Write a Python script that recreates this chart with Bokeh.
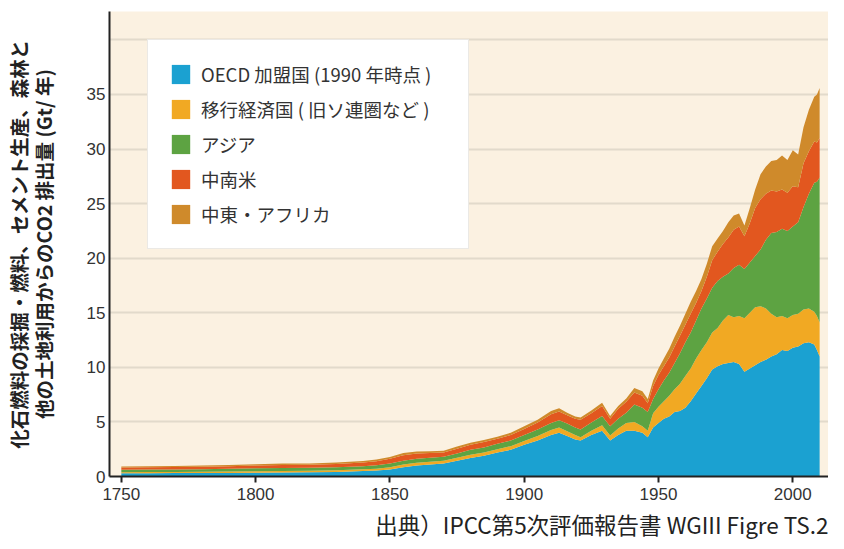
from bokeh.plotting import figure
from bokeh.models import ColumnDataSource, FixedTicker, LinearAxis, Title, Range1d
from bokeh.embed import file_html
from bokeh.resources import INLINE

years = [1750, 1760, 1770, 1780, 1790, 1800, 1810, 1820, 1830, 1840, 1845, 1850,
         1855, 1860, 1865, 1870, 1875, 1880, 1885, 1890, 1895, 1900, 1905, 1910,
         1913, 1916, 1919, 1921, 1925, 1929, 1932, 1935, 1938, 1941, 1944, 1946,
         1948, 1950, 1952, 1954, 1956, 1958, 1960, 1962, 1964, 1966, 1968, 1970,
         1972, 1974, 1976, 1978, 1980, 1982, 1984, 1986, 1988, 1990, 1992, 1994,
         1996, 1998, 2000, 2002, 2004, 2006, 2008, 2009, 2010]

oecd = [0.30, 0.30, 0.31, 0.32, 0.33, 0.35, 0.37, 0.38, 0.42, 0.50, 0.55, 0.65,
        0.85, 1.00, 1.10, 1.20, 1.45, 1.70, 1.90, 2.20, 2.45, 2.90, 3.30, 3.80,
        4.00, 3.70, 3.40, 3.30, 3.80, 4.20, 3.30, 3.80, 4.20, 4.20, 4.00, 3.60,
        4.50, 4.90, 5.30, 5.50, 5.90, 6.00, 6.30, 6.90, 7.60, 8.30, 9.00, 9.80,
        10.10, 10.30, 10.40, 10.50, 10.30, 9.60, 9.90, 10.20, 10.50, 10.70, 11.00, 11.20,
        11.60, 11.50, 11.80, 11.90, 12.20, 12.30, 12.10, 11.60, 11.00]

transition = [0.10, 0.11, 0.11, 0.11, 0.12, 0.13, 0.13, 0.14, 0.15, 0.16, 0.17, 0.20,
              0.25, 0.25, 0.25, 0.25, 0.27, 0.30, 0.30, 0.30, 0.33, 0.35, 0.40, 0.45,
              0.50, 0.45, 0.40, 0.30, 0.40, 0.50, 0.45, 0.60, 0.70, 0.80, 0.60, 0.60,
              1.30, 1.50, 1.60, 1.90, 2.10, 2.50, 2.90, 3.00, 3.20, 3.30, 3.30, 3.40,
              3.50, 4.00, 4.40, 4.10, 4.40, 4.90, 5.10, 5.30, 5.10, 4.70, 3.90, 3.40,
              3.10, 3.00, 3.00, 3.00, 3.10, 3.10, 3.00, 3.10, 3.10]

asia = [0.22, 0.22, 0.23, 0.24, 0.25, 0.27, 0.28, 0.28, 0.28, 0.29, 0.30, 0.35,
        0.35, 0.37, 0.37, 0.35, 0.38, 0.45, 0.45, 0.50, 0.52, 0.55, 0.60, 0.65,
        0.65, 0.70, 0.70, 0.70, 0.75, 0.85, 0.85, 0.90, 0.95, 1.60, 1.70, 1.70,
        1.30, 1.60, 1.90, 2.10, 2.40, 2.80, 3.10, 3.30, 3.50, 3.80, 4.00, 4.10,
        4.30, 4.00, 3.80, 4.50, 4.70, 4.50, 4.60, 4.70, 5.20, 6.30, 7.40, 7.80,
        8.00, 8.00, 8.10, 8.40, 9.40, 10.50, 11.80, 12.30, 13.30]

latam = [0.20, 0.21, 0.21, 0.22, 0.23, 0.25, 0.27, 0.28, 0.30, 0.33, 0.38, 0.42,
         0.50, 0.48, 0.43, 0.40, 0.45, 0.45, 0.50, 0.45, 0.50, 0.55, 0.65, 0.80,
         0.80, 0.75, 0.80, 0.90, 0.85, 0.90, 0.70, 0.90, 1.00, 1.10, 1.10, 0.80,
         1.20, 1.30, 1.30, 1.40, 1.50, 1.60, 1.60, 1.70, 1.60, 1.60, 2.00, 2.50,
         2.70, 3.00, 3.30, 3.50, 3.50, 3.00, 3.60, 4.40, 4.60, 4.20, 3.90, 3.70,
         3.60, 3.50, 3.70, 3.20, 4.00, 3.90, 3.80, 3.60, 3.60]

mea = [0.10, 0.10, 0.10, 0.11, 0.12, 0.12, 0.13, 0.12, 0.13, 0.14, 0.15, 0.16,
       0.20, 0.20, 0.17, 0.15, 0.20, 0.20, 0.20, 0.20, 0.20, 0.25, 0.25, 0.30,
       0.30, 0.25, 0.20, 0.20, 0.25, 0.30, 0.25, 0.25, 0.30, 0.40, 0.40, 0.40,
       0.50, 0.60, 0.70, 0.80, 0.90, 0.90, 1.00, 1.10, 1.10, 1.10, 1.20, 1.30,
       1.20, 1.20, 1.40, 1.30, 1.20, 1.00, 1.40, 1.70, 2.30, 2.50, 2.70, 2.90,
       3.10, 3.00, 3.30, 3.00, 3.30, 3.80, 4.10, 4.40, 4.60]

series_keys = ["oecd", "transition", "asia", "latam", "mea"]
series_labels = ["OECD 加盟国 (1990 年時点 )", "移行経済国 ( 旧ソ連圏など )", "アジア", "中南米", "中東・アフリカ"]
series_colors = ["#1ba1d1", "#f1a923", "#5da342", "#e2571f", "#cf8a2b"]

x_ticks = [1750, 1800, 1850, 1900, 1950, 2000]
y_ticks = [0, 5, 10, 15, 20, 25, 30, 35]
grid_ticks = [5, 10, 15, 20, 25, 30, 35, 40]

ylabel_line1 = "化石燃料の採掘・燃料、セメント生産、森林と"
ylabel_line2 = "他の土地利用からのCO2 排出量 (Gt/ 年)"
source_text = "出典）IPCC第5次評価報告書 WGIII Figre TS.2"

source = ColumnDataSource(data=dict(year=years, oecd=oecd, transition=transition,
                                    asia=asia, latam=latam, mea=mea))

p = figure(width=828, height=542, output_backend="svg", toolbar_location=None,
           x_range=Range1d(1745.6, 2013.3), y_range=Range1d(0, 42.6),
           min_border_left=106, min_border_right=0, min_border_top=11, min_border_bottom=65,
           background_fill_color="#fbf1e1", border_fill_color="white",
           outline_line_color=None)

p.varea_stack(stackers=series_keys, x="year", color=series_colors,
              legend_label=series_labels, source=source)

CJK = "Noto Sans CJK JP"

# x axis
p.xaxis.ticker = FixedTicker(ticks=x_ticks)
p.xaxis.axis_line_color = "#222222"
p.xaxis.axis_line_width = 2
p.xaxis.major_tick_line_color = "#222222"
p.xaxis.major_tick_line_width = 2
p.xaxis.major_tick_out = 6
p.xaxis.major_tick_in = 0
p.xaxis.minor_tick_line_color = None
p.xaxis.major_label_text_font = "Liberation Sans"
p.xaxis.major_label_text_font_size = "17px"
p.xaxis.major_label_text_color = "#333333"
p.xaxis.major_label_standoff = 5

# y axis
p.yaxis.ticker = FixedTicker(ticks=y_ticks)
p.yaxis.axis_line_color = "#222222"
p.yaxis.axis_line_width = 2
p.yaxis.major_tick_line_color = None
p.yaxis.minor_tick_line_color = None
p.yaxis.major_tick_out = 0
p.yaxis.major_tick_in = 0
p.yaxis.major_label_text_font = "Liberation Sans"
p.yaxis.major_label_text_font_size = "17px"
p.yaxis.major_label_text_color = "#333333"
p.yaxis.major_label_standoff = 4
p.yaxis.axis_label = ylabel_line2
p.yaxis.axis_label_text_font = CJK
p.yaxis.axis_label_text_font_size = "19.5px"
p.yaxis.axis_label_text_font_style = "bold"
p.yaxis.axis_label_text_color = "#222222"
p.yaxis.axis_label_standoff = 26

outer = LinearAxis(axis_label=ylabel_line1, ticker=FixedTicker(ticks=[]),
                   axis_line_color=None, major_tick_line_color=None,
                   minor_tick_line_color=None, major_label_text_font_size="0px",
                   major_tick_out=0, major_label_standoff=0,
                   axis_label_text_font=CJK, axis_label_text_font_size="19.5px",
                   axis_label_text_font_style="bold", axis_label_text_color="#222222",
                   axis_label_standoff=-7)
p.add_layout(outer, "left")

# grid
p.xgrid.visible = False
p.ygrid.ticker = FixedTicker(ticks=grid_ticks)
p.ygrid.grid_line_color = "#e2dacb"
p.ygrid.grid_line_width = 2

# legend
lg = p.legend[0]
lg.location = (38, 227)
lg.padding = 21
lg.spacing = 9
lg.margin = 0
lg.glyph_width = 23
lg.glyph_height = 24
lg.label_standoff = 9
lg.label_width = 246
lg.label_height = 25
lg.label_text_font = CJK
lg.label_text_font_size = "18.5px"
lg.label_text_color = "#333333"
lg.label_text_baseline = "middle"
lg.background_fill_color = "white"
lg.background_fill_alpha = 1.0
lg.border_line_color = "#d8d4cc"
lg.border_line_width = 1

# source note
src = Title(text=source_text, align="right", text_font=CJK, text_font_size="22.5px",
            text_font_style="normal", text_color="#222222", standoff=6)
p.add_layout(src, "below")

open("out.html", "w").write(file_html(p, INLINE))
